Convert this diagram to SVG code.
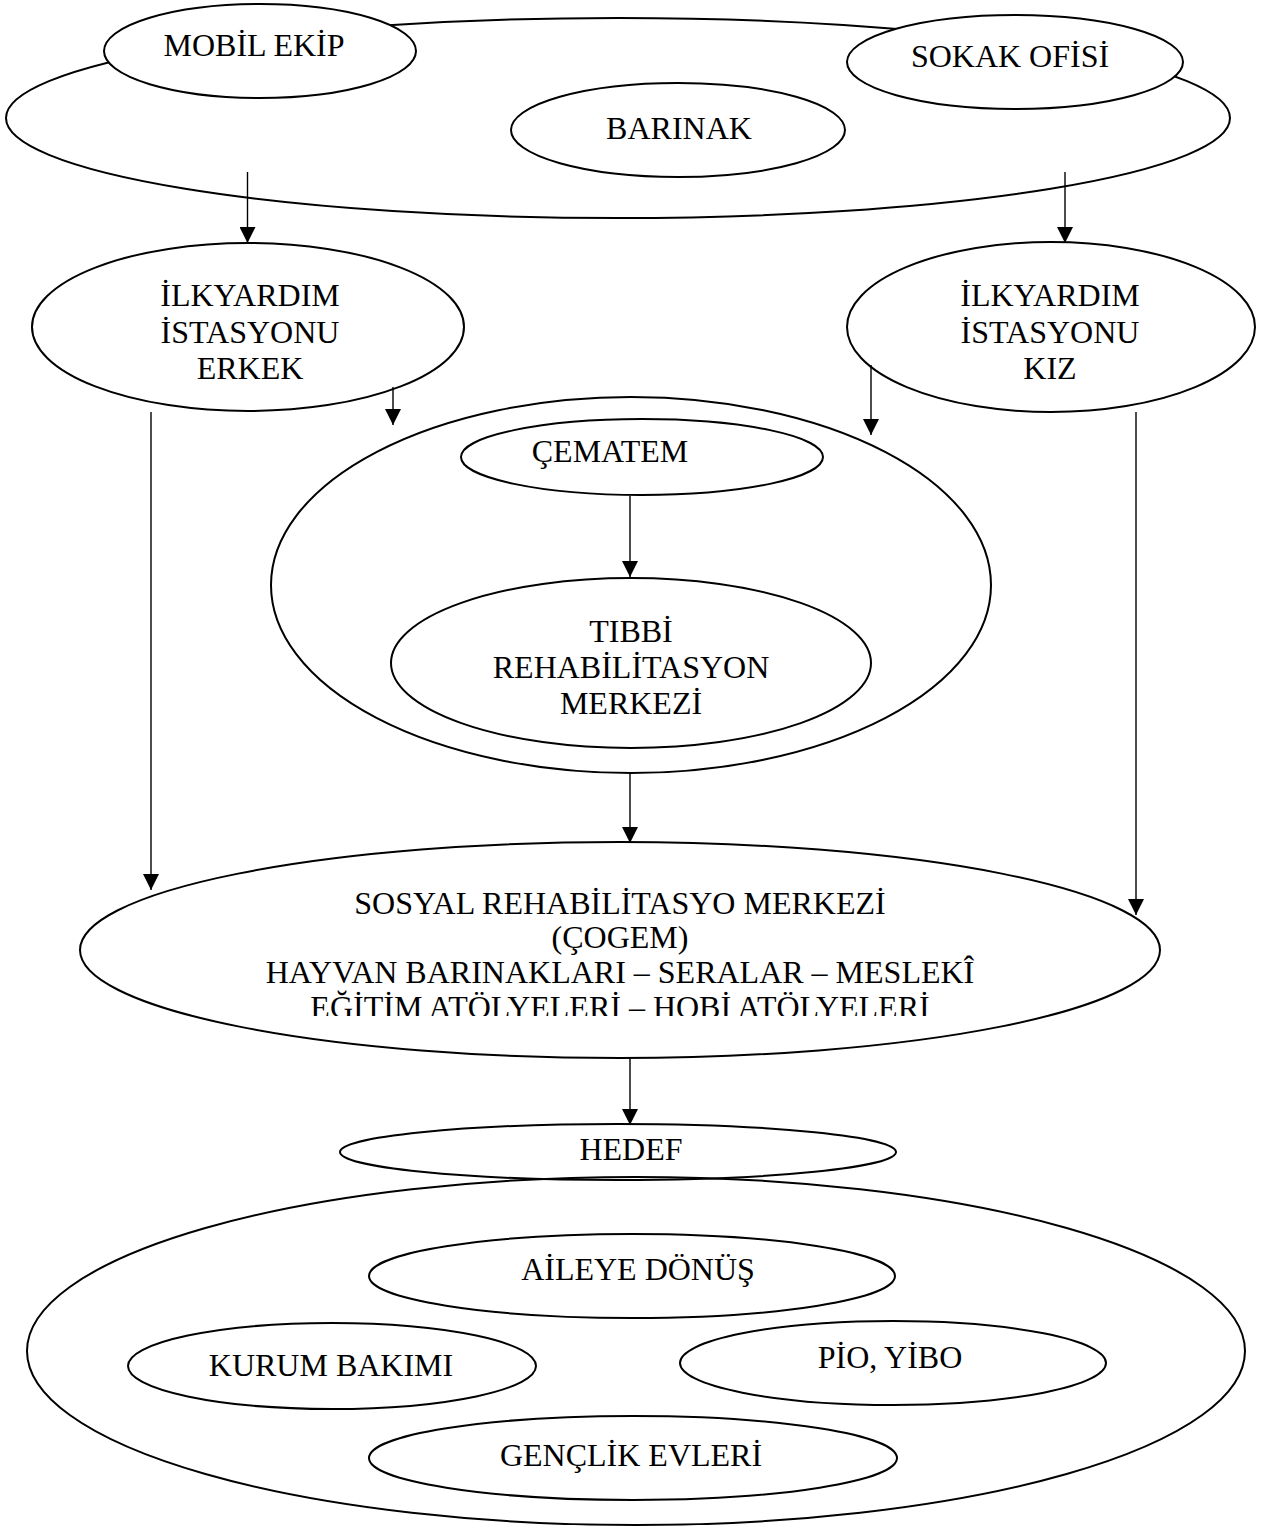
<svg xmlns="http://www.w3.org/2000/svg" width="1264" height="1539" viewBox="0 0 1264 1539">
<defs>
<style>
.e{fill:none;stroke:#000;stroke-width:2}
.w{fill:#fff;stroke:#000;stroke-width:2}
.t{font-family:"Liberation Serif","Times New Roman",serif;font-size:32px;fill:#000;text-anchor:middle;dominant-baseline:central}
.c line{stroke:#000;stroke-width:1.4}
</style>
<marker id="ah" viewBox="0 0 16 16" refX="16" refY="8" markerWidth="16" markerHeight="16" markerUnits="userSpaceOnUse" orient="auto">
<path d="M0,0 L16,8 L0,16 Z" fill="#000"/>
</marker>
<clipPath id="clipSos"><rect x="0" y="850" width="1264" height="166"/></clipPath>
</defs>
<rect width="1264" height="1539" fill="#fff"/>

<g id="top-group">
<ellipse class="e" cx="618" cy="118" rx="612" ry="100"/>
</g>
<g id="mobil-ekip">
<ellipse class="w" cx="260" cy="51" rx="156" ry="47"/>
<text class="t" x="254" y="45">MOBİL EKİP</text>
</g>
<g id="sokak-ofisi">
<ellipse class="w" cx="1015" cy="62" rx="168" ry="47"/>
<text class="t" x="1010" y="56">SOKAK OFİSİ</text>
</g>
<g id="barinak">
<ellipse class="w" cx="678" cy="130" rx="167" ry="47"/>
<text class="t" x="679" y="128">BARINAK</text>
</g>

<g id="ilkyardim-erkek">
<ellipse class="w" cx="248" cy="327" rx="216" ry="84"/>
<text class="t" x="250" y="295">İLKYARDIM</text>
<text class="t" x="250" y="332">İSTASYONU</text>
<text class="t" x="250" y="368">ERKEK</text>
</g>
<g id="ilkyardim-kiz">
<ellipse class="w" cx="1051" cy="327" rx="204" ry="85"/>
<text class="t" x="1050" y="295">İLKYARDIM</text>
<text class="t" x="1050" y="332">İSTASYONU</text>
<text class="t" x="1050" y="368">KIZ</text>
</g>

<g id="center-group">
<ellipse class="e" cx="631" cy="585" rx="360" ry="188"/>
</g>
<g id="cematem">
<ellipse class="w" cx="642" cy="457" rx="181" ry="38"/>
<text class="t" x="610" y="451">ÇEMATEM</text>
</g>
<g id="tibbi-rehabilitasyon">
<ellipse class="w" cx="631" cy="663" rx="240" ry="85"/>
<text class="t" x="631" y="631">TIBBİ</text>
<text class="t" x="631" y="667">REHABİLİTASYON</text>
<text class="t" x="631" y="703">MERKEZİ</text>
</g>

<g id="sosyal-rehabilitasyon">
<ellipse class="w" cx="620" cy="950" rx="540" ry="108"/>
<g clip-path="url(#clipSos)">
<text class="t" x="620" y="903">SOSYAL REHABİLİTASYO MERKEZİ</text>
<text class="t" x="620" y="937">(ÇOGEM)</text>
<text class="t" x="620" y="972">HAYVAN BARINAKLARI – SERALAR – MESLEKÎ</text>
<text class="t" x="620" y="1007">EĞİTİM ATÖLYELERİ – HOBİ ATÖLYELERİ</text>
</g>
</g>

<g id="hedef">
<ellipse class="w" cx="618" cy="1152" rx="278" ry="28"/>
<text class="t" x="631" y="1149">HEDEF</text>
</g>

<g id="bottom-group">
<ellipse class="e" cx="636" cy="1351" rx="609" ry="174"/>
</g>
<g id="aileye-donus">
<ellipse class="w" cx="632" cy="1276" rx="263" ry="42"/>
<text class="t" x="638" y="1269">AİLEYE DÖNÜŞ</text>
</g>
<g id="kurum-bakimi">
<ellipse class="w" cx="332" cy="1366" rx="204" ry="43"/>
<text class="t" x="331" y="1365">KURUM BAKIMI</text>
</g>
<g id="pio-yibo">
<ellipse class="w" cx="893" cy="1363" rx="213" ry="42"/>
<text class="t" x="890" y="1357">PİO, YİBO</text>
</g>
<g id="genclik-evleri">
<ellipse class="w" cx="633" cy="1458" rx="264" ry="42"/>
<text class="t" x="631" y="1455">GENÇLİK EVLERİ</text>
</g>

<g id="connectors" class="c">
<line x1="247.5" y1="172" x2="247.5" y2="243" marker-end="url(#ah)"/>
<line x1="1065" y1="172" x2="1065" y2="243" marker-end="url(#ah)"/>
<line x1="393" y1="387" x2="393" y2="425" marker-end="url(#ah)"/>
<line x1="871" y1="365" x2="871" y2="435" marker-end="url(#ah)"/>
<line x1="151" y1="412" x2="151" y2="890" marker-end="url(#ah)"/>
<line x1="1136" y1="412" x2="1136" y2="915" marker-end="url(#ah)"/>
<line x1="630" y1="496" x2="630" y2="577" marker-end="url(#ah)"/>
<line x1="630" y1="772" x2="630" y2="843" marker-end="url(#ah)"/>
<line x1="630" y1="1058" x2="630" y2="1125" marker-end="url(#ah)"/>
</g>
</svg>
